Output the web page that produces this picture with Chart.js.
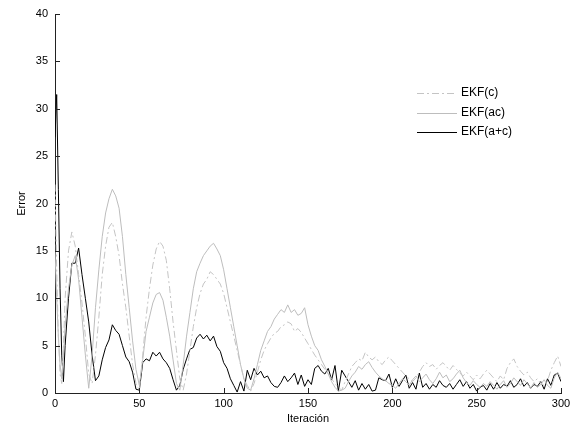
<!DOCTYPE html>
<html>
<head>
<meta charset="utf-8">
<script src="https://cdn.jsdelivr.net/npm/chart.js@4.4.1/dist/chart.umd.min.js"></script>
<style>
  html, body { margin: 0; padding: 0; background: #fff; }
  #wrap { width: 581px; height: 432px; }
</style>
</head>
<body>
<div id="wrap"><canvas id="myChart" width="581" height="432"></canvas></div>
<script>
const iters = [0, 1, 2, 3, 4, 5, 6, 8, 10, 12, 14, 16, 18, 20, 22, 24, 26, 28, 30, 32, 34, 36, 38, 40,
  42, 44, 46, 48, 50, 52, 54, 56, 58, 60, 62, 64, 66, 68, 70, 72, 74, 76, 78, 80, 82, 84, 86, 88, 90,
  92, 94, 96, 98, 100, 102, 104, 106, 108, 110, 112, 114, 116, 118, 120, 122, 124, 126, 128, 130,
  132, 134, 136, 138, 140, 142, 144, 146, 148, 150, 152, 154, 156, 158, 160, 162, 164, 166, 168,
  170, 172, 174, 176, 178, 180, 182, 184, 186, 188, 190, 192, 194, 196, 198, 200, 202, 204, 206,
  208, 210, 212, 214, 216, 218, 220, 222, 224, 226, 228, 230, 232, 234, 236, 238, 240, 242, 244,
  246, 248, 250, 252, 254, 256, 258, 260, 262, 264, 266, 268, 270, 272, 274, 276, 278, 280, 282,
  284, 286, 288, 290, 292, 294, 296, 298, 300];

const ekfC = [22, 13, 6, 2, 1, 5, 10, 15, 17, 15.5, 12.5, 9.5, 6, 2, 1, 4, 8, 12.5, 15.5, 17.5, 18, 16.5,
  14.5, 11.5, 9, 6, 3, 1, 0.3, 4, 8, 11, 13.5, 15.2, 16, 15.5, 14, 11, 7.5, 4.5, 1.5, 0.3, 2, 4.5, 7,
  9, 10.5, 11.5, 12, 12.8, 12.5, 12, 11.5, 10.5, 9, 7.5, 6, 4.5, 3, 1.5, 0.8, 0.2, 1, 2.2, 3.5, 4.5,
  5.2, 5.8, 6.3, 6.5, 7, 7.2, 7.5, 7.3, 6.5, 6.8, 6.4, 5.8, 5.2, 4.6, 4.0, 3.5, 3.0, 2.5, 2.0, 1.5,
  1.0, 0.6, 0.3, 1.2, 2.0, 2.8, 3.2, 3.6, 3.4, 4.3, 3.8, 3.5, 3.8, 3.3, 3.0, 3.5, 3.8, 3.4, 3.0, 2.6,
  2.2, 1.8, 1.5, 1.2, 1.6, 2.2, 2.8, 3.2, 2.8, 3.0, 2.5, 2.9, 3.2, 2.8, 2.4, 2.9, 2.5, 2.1, 1.8, 2.2,
  1.8, 1.4, 1.9, 1.5, 2.0, 2.4, 2.0, 1.6, 1.2, 1.8, 1.4, 2.6, 3.2, 3.6, 2.8, 2.3, 1.9, 2.2, 1.6, 1.2,
  1.5, 1.0, 0.8, 1.3, 2.4, 3.2, 3.9, 2.8];

const ekfAC = [15, 10, 6, 3, 1.5, 4, 7, 11, 13.5, 14.5, 12, 8, 4, 0.5, 4, 9, 13, 16.5, 19, 20.5, 21.5,
  20.8, 19.5, 16.5, 12.5, 9, 5.5, 2.5, 0.8, 3.5, 6.5, 8, 9.5, 10.4, 10.6, 9.8, 8, 6, 3.5, 1, 0.3, 3, 6,
  8.5, 11, 12.8, 13.7, 14.5, 15, 15.5, 15.8, 15.2, 14.5, 13, 11, 9, 7, 5, 3, 1.5, 0.5, 0.3, 1.5, 3,
  4.5, 5.5, 6.5, 7, 7.8, 8.3, 8.8, 8.5, 9.3, 8.5, 8.8, 8.2, 8.4, 9.0, 7.2, 6, 5, 4.5, 3.5, 2.8, 2,
  1.2, 0.6, 0.2, 0.3, 0.5, 1.2, 1.8, 2.2, 2.8, 2.5, 3.0, 3.3, 2.7, 2.2, 1.8, 1.5, 1.3, 1.0, 0.8, 0.5,
  1.0, 1.5, 1.2, 0.8, 1.4, 1.8, 1.2, 1.6, 2.0, 1.4, 1.0, 1.5, 2.2, 1.6, 1.9, 1.2, 1.5, 2.0, 2.4, 1.6,
  1.1, 0.8, 1.3, 0.9, 0.6, 1.0, 0.7, 1.2, 0.8, 0.4, 0.9, 1.3, 0.6, 1.0, 1.6, 1.2, 0.8, 1.4, 1.0, 0.5,
  1.1, 0.6, 0.9, 1.4, 0.8, 0.5, 1.6, 2.2, 1.5];

const ekfAplusC = [27, 31.5, 21.5, 11, 4, 1.2, 5, 10, 13.7, 13.7, 15.3, 12.5, 10, 7.5, 4, 1.3, 1.8, 3.5,
  4.8, 5.6, 7.2, 6.6, 6.2, 5, 3.8, 3.3, 2.2, 0.4, 0.3, 3.2, 3.6, 3.4, 4.3, 3.9, 4.3, 3.6, 3.2, 2.6,
  1.4, 0.3, 0.8, 2.5, 3.6, 4.6, 4.8, 5.8, 6.2, 5.7, 6.1, 5.5, 6.0, 4.9, 4.4, 3.2, 2.6, 1.5, 0.8, 0.1,
  1.2, 0.2, 2.4, 1.4, 2.6, 1.9, 2.3, 1.6, 1.8, 1.1, 0.7, 0.6, 1.1, 1.8, 1.2, 1.6, 2.1, 0.9, 1.9, 0.7,
  1.4, 0.9, 2.6, 2.9, 2.3, 2.0, 2.6, 1.4, 2.9, 0.2, 2.4, 1.8, 1.2, 0.6, 1.3, 0.3, 1.0, 0.4, 0.9, 0.2,
  0.3, 1.6, 1.4, 1.3, 2.0, 0.6, 1.5, 0.7, 1.3, 1.9, 0.5, 1.1, 0.4, 2.1, 0.6, 1.0, 0.4, 0.9, 0.6, 1.3,
  0.8, 0.6, 1.0, 0.4, 0.9, 1.4, 0.7, 1.2, 0.5, 0.9, 0.2, 0.6, 0.8, 0.3, 1.0, 0.4, 1.1, 0.5, 0.9, 0.7,
  1.3, 0.6, 0.9, 1.5, 0.7, 1.1, 0.5, 0.9, 0.7, 1.2, 0.4, 1.5, 0.8, 1.9, 2.1, 1.2];

const seriesNames = ["EKF(c)", "EKF(ac)", "EKF(a+c)"];
const xTicks = [0, 50, 100, 150, 200, 250, 300];
const yTicks = [0, 5, 10, 15, 20, 25, 30, 35, 40];

const FONT = '"Liberation Sans", Arial, sans-serif';
Chart.defaults.font.family = FONT;
Chart.defaults.font.size = 11;
Chart.defaults.color = "#000";

function toPoints(vals) {
  return vals.map((v, i) => ({ x: iters[i], y: v }));
}

// MATLAB-style inward ticks and the legend box
const matlabBits = {
  id: "matlabBits",
  afterDraw(chart) {
    const c = chart.ctx;
    const xs = chart.scales.x;
    const ys = chart.scales.y;
    const area = chart.chartArea;
    c.save();
    c.strokeStyle = "#222";
    c.lineWidth = 1;
    c.beginPath();
    xTicks.forEach((t) => {
      const px = Math.round(xs.getPixelForValue(t)) + 0.5;
      c.moveTo(px, area.bottom);
      c.lineTo(px, area.bottom - 5);
    });
    yTicks.forEach((t) => {
      const py = Math.round(ys.getPixelForValue(t)) + 0.5;
      c.moveTo(area.left, py);
      c.lineTo(area.left + 5, py);
    });
    c.stroke();

    // legend
    const lx = 417, tx = 461;
    const rows = [93, 113, 132];
    c.font = "12px " + FONT;
    c.textBaseline = "middle";
    c.fillStyle = "#000";
    chart.data.datasets.forEach((ds, i) => {
      c.beginPath();
      c.strokeStyle = ds.borderColor;
      c.setLineDash(ds.borderDash || []);
      c.moveTo(lx, rows[i] + 0.5);
      c.lineTo(lx + 40, rows[i] + 0.5);
      c.stroke();
      c.setLineDash([]);
      c.fillText(ds.label, tx, rows[i]);
    });
    c.restore();
  },
};

const ctx = document.getElementById("myChart");
const myChart = new Chart(ctx, {
  type: "line",
  data: {
    datasets: [
      {
        label: seriesNames[0],
        data: toPoints(ekfC),
        borderColor: "#c4c4c4",
        borderWidth: 1,
        borderDash: [7, 3, 2, 3],
        pointRadius: 0,
        tension: 0,
      },
      {
        label: seriesNames[1],
        data: toPoints(ekfAC),
        borderColor: "#bdbdbd",
        borderWidth: 1,
        pointRadius: 0,
        tension: 0,
      },
      {
        label: seriesNames[2],
        data: toPoints(ekfAplusC),
        borderColor: "#000",
        borderWidth: 1,
        pointRadius: 0,
        tension: 0,
      },
    ],
  },
  options: {
    responsive: false,
    animation: false,
    events: [],
    layout: { padding: { top: 14, right: 20, left: 0, bottom: 0 } },
    plugins: {
      legend: { display: false },
      tooltip: { enabled: false },
    },
    scales: {
      x: {
        type: "linear",
        min: 0,
        max: 300,
        afterBuildTicks: (s) => { s.ticks = xTicks.map((v) => ({ value: v })); },
        afterFit: (s) => { s.height = 39; },
        grid: { display: false, drawTicks: false },
        border: { display: true, color: "#222", width: 1 },
        ticks: { padding: 4, maxRotation: 0, font: { size: 11 } },
        title: { display: true, text: "Iteración", padding: { top: 1, bottom: 6 }, font: { size: 11 } },
      },
      y: {
        min: 0,
        max: 40,
        afterBuildTicks: (s) => { s.ticks = yTicks.map((v) => ({ value: v })); },
        afterFit: (s) => { s.width = 55; },
        grid: { display: false, drawTicks: false },
        border: { display: true, color: "#222", width: 1 },
        ticks: { padding: 7, font: { size: 11 } },
        title: { display: true, text: "Error", padding: { top: 15, bottom: 4 }, font: { size: 11 } },
      },
    },
  },
  plugins: [matlabBits],
});
</script>
</body>
</html>
